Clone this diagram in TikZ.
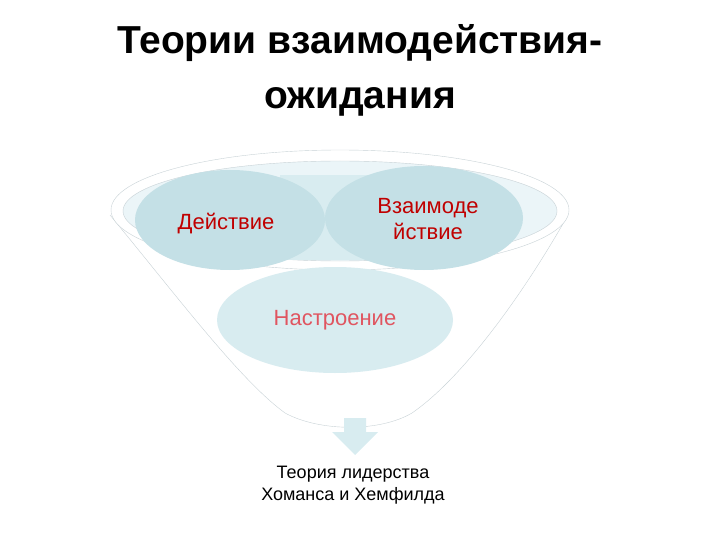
\documentclass[tikz,border=0pt]{standalone}
\usepackage{fontspec}
\setmainfont{Liberation Sans}
\usetikzlibrary{shapes.geometric}
\definecolor{blob}{HTML}{C4E0E6}
\definecolor{blobl}{HTML}{D8ECF0}
\definecolor{rim}{HTML}{C8D2D6}
\definecolor{dred}{HTML}{C00000}
\definecolor{pred}{HTML}{E05560}
\begin{document}
\begin{tikzpicture}[x=1pt,y=-1pt,
  blobs/.style={fill=blob,draw=none}]
\useasboundingbox (0,0) rectangle (720,540);
% funnel
\draw[rim,fill=white] (110,215) .. controls (180,300) and (240,380) .. (285,413)
  .. controls (320,432) and (380,432) .. (412,413)
  .. controls (460,380) and (520,300) .. (568,215);
\draw[rim,fill=white] (340,210) ellipse [x radius=229, y radius=60];
\draw[rim,fill=blobl!50] (340,211) ellipse [x radius=217, y radius=50];
\fill[blobl] (280,175) rectangle (380,260);
\node[blobs,ellipse,minimum width=190,minimum height=100] (a) at (230,220) {};
\node[blobs,ellipse,minimum width=198,minimum height=104] (b) at (424,218) {};
\node[fill=blobl,ellipse,minimum width=236,minimum height=106] (c) at (335,320) {};
\node[text=dred,font=\fontsize{22}{26}\selectfont] (ta) at (226,224) {Действие};
\node[text=dred,font=\fontsize{22}{26}\selectfont,align=center] (tb) at (428,219) {Взаимоде\\йствие};
\node[text=pred,font=\fontsize{22}{26}\selectfont] (tc) at (335,320) {Настроение};
% arrow
\fill[blobl] (344,418) -- (366,418) -- (366,432) -- (378,432) -- (355,455) -- (332,432) -- (344,432) -- cycle;
\node[font=\fontsize{18}{22}\selectfont,align=center] (d) at (353,485) {Теория лидерства\\Хоманса и Хемфилда};
\node[font=\bfseries\fontsize{39}{55}\selectfont,align=center] (t) at (360,70) {Теории взаимодействия-\\ожидания};
\end{tikzpicture}
\end{document}
